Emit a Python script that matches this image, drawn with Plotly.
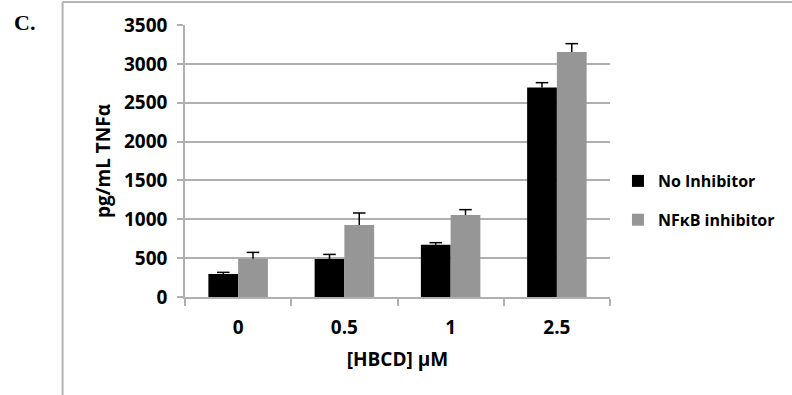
import plotly.graph_objects as go

categories = ["0", "0.5", "1", "2.5"]
no_inhibitor = [296, 489, 673, 2697]
no_inhibitor_err = [21, 59, 26, 61]
nfkb_inhibitor = [493, 926, 1055, 3153]
nfkb_inhibitor_err = [81, 155, 69, 107]
series_names = ["No Inhibitor", "NF\u03baB inhibitor"]
series_colors = ["#000000", "#969696"]
y_ticks = [0, 500, 1000, 1500, 2000, 2500, 3000, 3500]

W, H = 792, 395
L, R, T, B = 185, 180, 25, 98
pw, ph = W - L - R, H - T - B

FONT = "Open Sans"
GRID = "#b0b0b0"
BARGAP = 0.44

fig = go.Figure()
series = [(no_inhibitor, no_inhibitor_err), (nfkb_inhibitor, nfkb_inhibitor_err)]
for i, (vals, errs) in enumerate(series):
    fig.add_trace(go.Bar(
        x=categories, y=vals, name=f"<b>{series_names[i]}</b>",
        legendgroup=f"g{i}", offsetgroup=f"g{i}",
        marker=dict(color=series_colors[i], line=dict(width=0)),
        error_y=dict(type="data", array=errs, arrayminus=[0] * len(errs),
                     symmetric=False, color="#000000", thickness=1.5, width=0),
    ))
# error-bar caps (top only)
for i, (vals, errs) in enumerate(series):
    fig.add_trace(go.Scatter(
        x=categories, y=[v + e for v, e in zip(vals, errs)],
        mode="markers", showlegend=False, hoverinfo="skip",
        legendgroup=f"g{i}", offsetgroup=f"g{i}",
        marker=dict(symbol="line-ew", size=9,
                    line=dict(color="#000000", width=1.5)),
    ))

def px_x(px):
    return (px - L) / pw

def px_y(py):
    return (H - B - py) / ph

shapes = [
    dict(type="line", xref="paper", yref="paper",
         x0=px_x(62), x1=px_x(62), y0=px_y(H + 5), y1=px_y(2),
         line=dict(color="#b4b4b4", width=2)),
    dict(type="line", xref="paper", yref="paper",
         x0=px_x(62), x1=px_x(W + 5), y0=px_y(2), y1=px_y(2),
         line=dict(color="#b4b4b4", width=2)),
]

def b(s):
    return f"<b>{s}</b>"

fig.update_layout(
    width=W, height=H,
    margin=dict(l=L, r=R, t=T, b=B, pad=0),
    paper_bgcolor="white", plot_bgcolor="white",
    barmode="group", bargap=BARGAP, bargroupgap=0,
    scattermode="group", scattergap=BARGAP,
    font=dict(family=FONT, color="#000000"),
    showlegend=True,
    legend=dict(x=px_x(620), y=px_y(164), xanchor="left", yanchor="top",
                font=dict(family=FONT, size=16, color="#000000"),
                traceorder="grouped", tracegroupgap=15,
                itemwidth=30, bgcolor="rgba(0,0,0,0)"),
    xaxis=dict(
        type="category", showgrid=False, showline=True, linecolor=GRID,
        linewidth=1.5, ticks="outside", tickson="boundaries", ticklen=7,
        tickcolor=GRID, tickwidth=1.5, ticklabelstandoff=12,
        tickmode="array", tickvals=categories, ticktext=[b(c) for c in categories],
        tickfont=dict(family=FONT, size=19),
        title=dict(text=b("[HBCD] \u00b5M"), standoff=14,
                   font=dict(family=FONT, size=19)),
    ),
    yaxis=dict(
        range=[0, 3500], tickmode="array", tickvals=y_ticks,
        ticktext=[b(v) for v in y_ticks],
        showgrid=True, gridcolor=GRID, gridwidth=1.5,
        showline=True, linecolor=GRID, linewidth=1.5,
        ticks="outside", ticklen=6, tickcolor=GRID, tickwidth=1.5,
        ticklabelstandoff=6,
        tickfont=dict(family=FONT, size=19),
        zeroline=False,
        title=dict(text=b("pg/mL TNF\u03b1"), standoff=8,
                   font=dict(family=FONT, size=19)),
    ),
    shapes=shapes,
    annotations=[dict(text="<b>C.</b>", xref="paper", yref="paper",
                      x=px_x(11), y=px_y(22), xanchor="left", yanchor="middle",
                      showarrow=False,
                      font=dict(family="Liberation Serif", size=22, color="#000000"))],
)

fig.write_html("out.html")
